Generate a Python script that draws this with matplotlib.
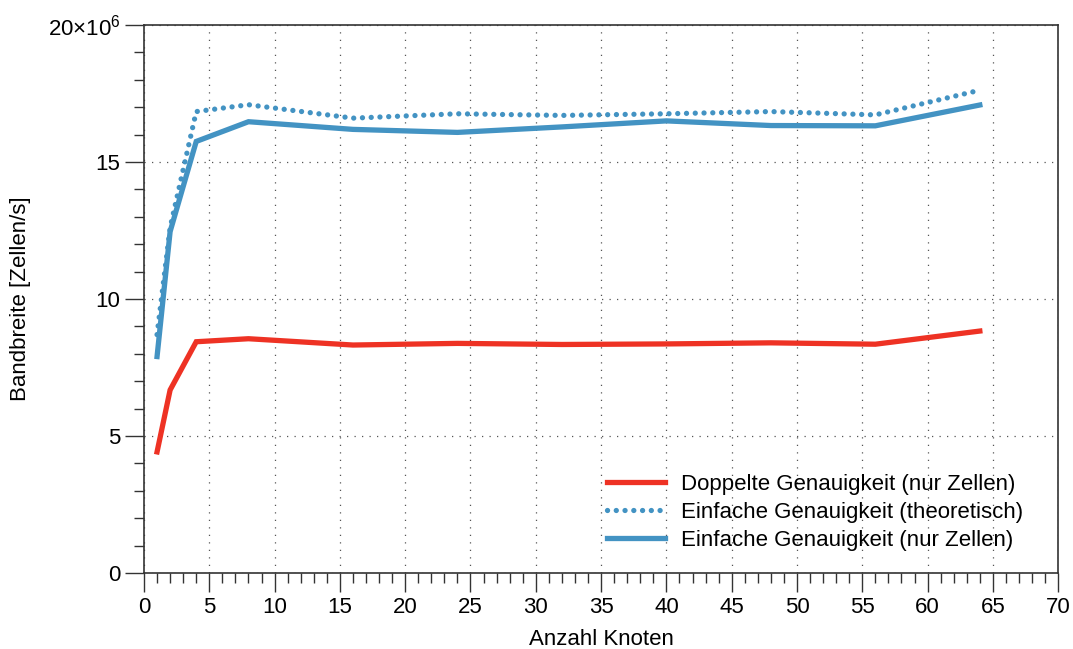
import numpy as np
import matplotlib
matplotlib.use("Agg")
import matplotlib.pyplot as plt
import matplotlib.ticker as mtick

plt.rcParams['font.family'] = ['Liberation Sans', 'DejaVu Sans']
plt.rcParams['mathtext.fontset'] = 'custom'
plt.rcParams['mathtext.rm'] = 'Liberation Sans'
plt.rcParams['mathtext.default'] = 'regular'

# Anzahl Knoten
knoten = [1, 2, 4, 8, 16, 24, 32, 40, 48, 56, 64]

# Bandbreite in Mio. Zellen/s
doppelt_nur_zellen = [4.42, 6.68, 8.44, 8.55, 8.32, 8.38, 8.34, 8.36, 8.40, 8.35, 8.83]
einfach_theoretisch = [8.7, 12.6, 16.84, 17.09, 16.60, 16.76, 16.70, 16.76, 16.84, 16.72, 17.62]
einfach_nur_zellen = [7.9, 12.46, 15.75, 16.47, 16.19, 16.08, 16.28, 16.50, 16.33, 16.32, 17.08]

labels = ["Doppelte Genauigkeit (nur Zellen)",
          "Einfache Genauigkeit (theoretisch)",
          "Einfache Genauigkeit (nur Zellen)"]

rot = "#EE3224"
blau = "#4393C3"

fig = plt.figure(figsize=(10.73, 6.49), dpi=100)
ax = fig.add_axes([0.1342, 0.1171, 0.852, 0.8444])

ax.plot(knoten, doppelt_nur_zellen, color=rot, lw=3.8, label=labels[0],
        solid_joinstyle='miter')
ax.plot(knoten, einfach_theoretisch, color=blau, lw=3.8, label=labels[1],
        linestyle=(0, (0.01, 1.65)), dash_capstyle='round')
ax.plot(knoten, einfach_nur_zellen, color=blau, lw=3.8, label=labels[2],
        solid_joinstyle='miter')

ax.set_xlim(0, 70)
ax.set_ylim(0, 20)
ax.xaxis.set_major_locator(mtick.MultipleLocator(5))
ax.xaxis.set_minor_locator(mtick.MultipleLocator(1))
ax.yaxis.set_major_locator(mtick.MultipleLocator(5))
ax.yaxis.set_minor_locator(mtick.MultipleLocator(1))


def yfmt(v, pos):
    if abs(v - 20) < 1e-9:
        return "20×10$^{6}$"
    return "%d" % v


ax.yaxis.set_major_formatter(mtick.FuncFormatter(yfmt))

ax.tick_params(which='major', direction='out', length=14, width=1.0,
               labelsize=16, pad=3, color='#333333')
ax.tick_params(which='minor', direction='out', length=7, width=1.0,
               color='#333333')
for s in ax.spines.values():
    s.set_linewidth(1.2)
    s.set_color('#333333')

ax.grid(True, which='major', color='#555555', linestyle=(0, (1, 5)), lw=0.9)

ax.set_xlabel("Anzahl Knoten", fontsize=16, labelpad=8)
ax.set_ylabel("Bandbreite [Zellen/s]", fontsize=16, labelpad=12)

ax.legend(loc='lower right', frameon=False, fontsize=16, handlelength=2.6,
          handletextpad=0.75, labelspacing=0.32, bbox_to_anchor=(0.984, 0.004))

fig.savefig("out.png", dpi=100)
